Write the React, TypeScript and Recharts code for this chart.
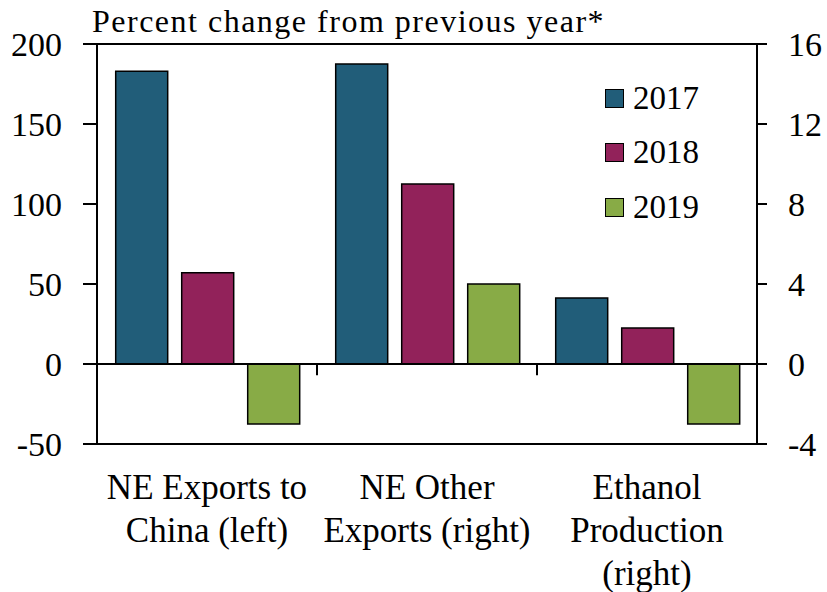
import React from 'react';
import { BarChart, Bar, XAxis, YAxis, ReferenceLine } from 'recharts';

const categories = ['NE Exports to\nChina (left)', 'NE Other\nExports (right)', 'Ethanol\nProduction\n(right)'];
const years = ['2017', '2018', '2019'];
const colors = ['#215D79', '#92225A', '#88AB46'];

// left-axis series (NE Exports to China)
const left2017 = [183, null, null];
const left2018 = [57, null, null];
const left2019 = [-37.5, null, null];
// right-axis series
const right2017 = [null, 15, 3.3];
const right2018 = [null, 9, 1.8];
const right2019 = [null, 4, -3];

const leftTicks = [-50, 0, 50, 100, 150, 200];
const rightTicks = [-4, 0, 4, 8, 12, 16];
const boundaries = [1, 2];

const leftSeries = [left2017, left2018, left2019];
const rightSeries = [right2017, right2018, right2019];

const data = categories.map((c, i) => {
  const row: any = { cat: c, pos: i };
  years.forEach((y, k) => {
    row['l' + y] = leftSeries[k][i];
    row['r' + y] = rightSeries[k][i];
  });
  return row;
});

const FONT = '"Times New Roman", "Liberation Serif", serif';

const CatTick = (props: any) => {
  const { x, y, payload } = props;
  const lines = String(payload.value).split('\n');
  return (
    <text x={x} y={y} textAnchor="middle" fontSize={35} style={{ fontFamily: FONT }} fill="#000">
      {lines.map((l, i) => (
        <tspan key={i} x={x} dy={i === 0 ? 55 : 43}>{l}</tspan>
      ))}
    </text>
  );
};

export default function App() {
  return (
    <div style={{ position: 'absolute', left: 0, top: 0, width: 827, height: 592, background: '#fff' }}>
      <BarChart
        width={827}
        height={592}
        data={data}
        margin={{ top: 44, right: 0, bottom: 0, left: 0 }}
        barCategoryGap="8.5%"
        barGap={14}
      >
        <XAxis
          dataKey="cat"
          height={148}
          tickLine={false}
          tickSize={0}
          tickMargin={0}
          axisLine={{ stroke: '#000', strokeWidth: 2 }}
          tick={<CatTick />}
          interval={0}
        />
        <XAxis xAxisId="num" dataKey="pos" type="number" domain={[0, 3]} allowDataOverflow hide />
        <YAxis
          yAxisId="left"
          width={97}
          domain={[-50, 200]}
          ticks={leftTicks}
          interval={0}
          tickSize={14}
          tickMargin={21}
          axisLine={{ stroke: '#000', strokeWidth: 2 }}
          tickLine={{ stroke: '#000', strokeWidth: 2 }}
          tick={{ fontSize: 34, style: { fontFamily: FONT }, fill: '#000' }}
        />
        <YAxis
          yAxisId="right"
          orientation="right"
          width={70}
          domain={[-4, 16]}
          ticks={rightTicks}
          interval={0}
          tickSize={10}
          tickMargin={21}
          axisLine={{ stroke: '#000', strokeWidth: 2 }}
          tickLine={{ stroke: '#000', strokeWidth: 2 }}
          tick={{ fontSize: 34, style: { fontFamily: FONT }, fill: '#000', textAnchor: 'start' }}
        />
        <ReferenceLine yAxisId="left" y={200} stroke="#000" strokeWidth={2} />
        <ReferenceLine yAxisId="left" y={0} stroke="#000" strokeWidth={2} />
        {boundaries.map((b) => (
          <ReferenceLine
            key={b}
            xAxisId="num"
            yAxisId="left"
            segment={[{ x: b, y: 0 }, { x: b, y: -7 }]}
            stroke="#000"
            strokeWidth={2}
          />
        ))}
        {years.map((y, k) => [
          <Bar
            key={'l' + y}
            dataKey={'l' + y}
            yAxisId="left"
            stackId={y}
            fill={colors[k]}
            stroke="#000"
            strokeWidth={1.5}
            isAnimationActive={false}
          />,
          <Bar
            key={'r' + y}
            dataKey={'r' + y}
            yAxisId="right"
            stackId={y}
            fill={colors[k]}
            stroke="#000"
            strokeWidth={1.5}
            isAnimationActive={false}
          />,
        ])}
      </BarChart>
      <div
        style={{
          position: 'absolute',
          left: 92,
          top: 5,
          fontFamily: FONT,
          fontSize: 32,
          lineHeight: '32px',
          letterSpacing: 1.5,
          whiteSpace: 'nowrap',
          color: '#000',
        }}
      >
        Percent change from previous year*
      </div>
      {years.map((y, k) => (
        <div
          key={y}
          style={{
            position: 'absolute',
            left: 605,
            top: 98 + k * 54.5 - 20,
            height: 40,
            display: 'flex',
            alignItems: 'center',
            fontFamily: FONT,
            fontSize: 33,
            color: '#000',
          }}
        >
          <div
            style={{
              width: 17,
              height: 17,
              background: colors[k],
              border: '1.5px solid #000',
              marginRight: 9,
            }}
          />
          <span>{y}</span>
        </div>
      ))}
    </div>
  );
}
